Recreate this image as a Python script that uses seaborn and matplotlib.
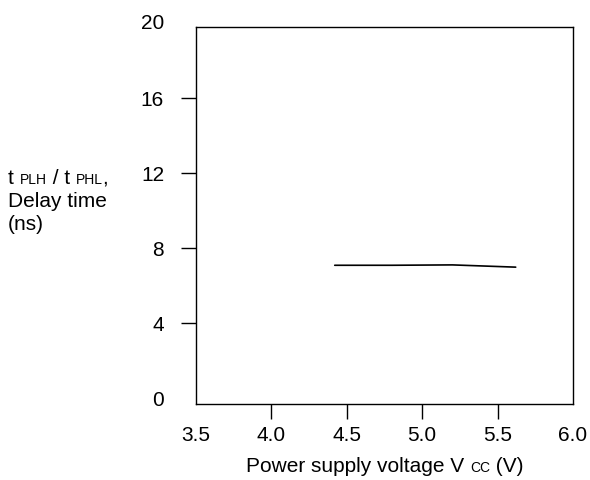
import matplotlib
matplotlib.use("Agg")
import matplotlib.pyplot as plt
import seaborn as sns
import pandas as pd

# data
vcc = [4.42, 4.8, 5.2, 5.62]
delay = [7.08, 7.08, 7.1, 6.98]
x_ticks = [3.5, 4.0, 4.5, 5.0, 5.5, 6.0]
y_ticks = [0, 4, 8, 12, 16]
y_top_label = "20"

sns.set_theme(style="white")
plt.rcParams["font.family"] = ["Liberation Sans", "DejaVu Sans"]

W, H = 590, 480
fig = plt.figure(figsize=(W/100, H/100), dpi=100)
ax = fig.add_axes([196/W, 1-404/H, (573-196)/W, (404-27)/H])

df = pd.DataFrame({"vcc": vcc, "delay": delay})
sns.lineplot(data=df, x="vcc", y="delay", ax=ax, color="black", linewidth=1.2, legend=False)

FS = 15
SFS = 10
ax.set_xlim(3.5, 6.0)
ax.set_ylim(-0.32, 19.79)
ax.set_xticks(x_ticks)
ax.set_xticklabels([f"{t:.1f}" for t in x_ticks])
ax.set_yticks(y_ticks)
ax.set_yticklabels([str(t) for t in y_ticks])
ax.tick_params(axis="both", direction="out", length=11, width=1, color="black",
               labelsize=FS, labelcolor="black")
ax.tick_params(axis="x", pad=4.5, bottom=True)
ax.tick_params(axis="y", pad=12, left=True)
xt = ax.xaxis.get_major_ticks()
xt[0].tick1line.set_visible(False)
xt[-1].tick1line.set_visible(False)
ax.yaxis.get_major_ticks()[0].tick1line.set_visible(False)
ax.annotate(y_top_label, xy=(0, 20), xycoords=("axes fraction", "data"),
            xytext=(-23, 0), textcoords="offset points", ha="right", va="center",
            fontsize=FS, color="black", annotation_clip=False)

for s in ax.spines.values():
    s.set_color("black")
    s.set_linewidth(1)
ax.set_xlabel("")
ax.set_ylabel("")
ax.grid(False)

renderer = fig.canvas.get_renderer()

def place(parts, x_px, base_px, ha="left"):
    """Place mixed-size text parts on one baseline; positions in pixels from top-left."""
    texts = []
    widths = []
    for t, fs in parts:
        tx = fig.text(0, 0, t, fontsize=fs, color="black", va="baseline", ha="left")
        bb = tx.get_window_extent(renderer=renderer)
        texts.append(tx)
        widths.append(bb.width)
    total = sum(widths)
    x0 = x_px if ha == "left" else x_px - total / 2
    for tx, w in zip(texts, widths):
        tx.set_position((x0 / W, 1 - base_px / H))
        x0 += w

place([("t ", FS), ("PLH", SFS), (" / t ", FS), ("PHL", SFS), (",", FS)], 8, 184)
place([("Delay time", FS)], 8, 207)
place([("(ns)", FS)], 8, 230)
place([("Power supply voltage V ", FS), ("CC", SFS), (" (V)", FS)], 385, 472, ha="center")

fig.savefig("out.png", dpi=100)
